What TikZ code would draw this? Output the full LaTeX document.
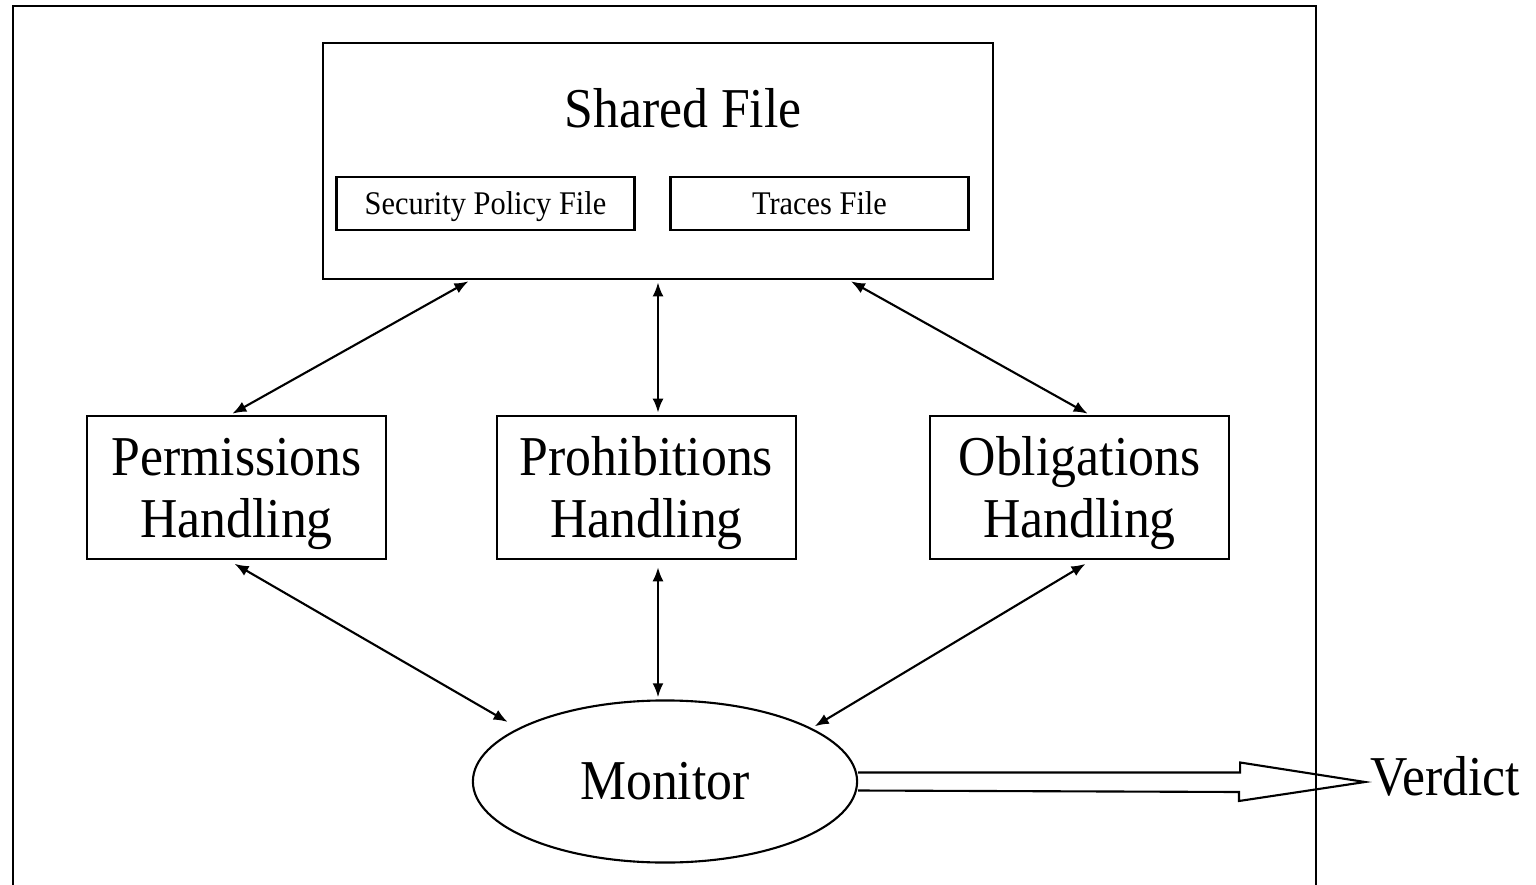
\documentclass[tikz,border=0pt]{standalone}
\usepackage{fontspec}
\setmainfont[FakeStretch=0.92]{Liberation Serif}
\usetikzlibrary{arrows.meta,positioning,calc,shapes}

\begin{document}
\begin{tikzpicture}[x=0.01cm,y=-0.01cm,
  box/.style={draw,line width=0.7pt,inner sep=0pt,align=center,font=\fontsize{16}{17.6}\selectfont},
  smallbox/.style={draw,line width=0.7pt,inner sep=0pt,minimum width=2.98cm,minimum height=0.53cm,text height=0.21cm,text depth=0pt,font=\fontsize{9.4}{11}\selectfont},
  link/.style={line width=0.6pt,{Latex[length=1.4mm,width=1.1mm]}-{Latex[length=1.4mm,width=1.1mm]},shorten <=0.6pt,shorten >=0.6pt}]
\useasboundingbox (0,0) rectangle (1536,885);
\draw[line width=0.7pt] (13,6) rectangle (1316,888);
% shared file
\node[box,minimum width=6.7cm,minimum height=2.36cm] (shared) at (658,161) {};
\node[font=\fontsize{16}{17.6}\selectfont] (sharedtitle) at (683,108) {Shared File};
\node[smallbox] (policy) at (485.5,203.5) {Security Policy File};
\node[smallbox] (traces) at (819.5,203.5) {Traces File};
% handlers
\node[box,minimum width=2.99cm,minimum height=1.43cm] (perm) at (236.5,487.5) {Permissions\rule{0pt}{0.5cm}\\Handling};
\node[box,minimum width=2.99cm,minimum height=1.43cm] (prohib) at (646.5,487.5) {Prohibitions\rule{0pt}{0.5cm}\\Handling};
\node[box,minimum width=2.99cm,minimum height=1.43cm] (obl) at (1079.5,487.5) {Obligations\rule{0pt}{0.5cm}\\Handling};
% monitor
\node[draw,ellipse,line width=0.6pt,inner sep=0pt,minimum width=3.84cm,minimum height=1.62cm,font=\fontsize{16}{17.6}\selectfont] (monitor) at (665,781.5) {Monitor};
\node[anchor=west,inner sep=0pt,inner xsep=0.05cm,text height=0.26cm,text depth=0pt,font=\fontsize{16}{17.6}\selectfont] (verdict) at (1365,782) {Verdict};
% links
\draw[link] ($(shared.south west)!0.221!(shared.south east)$) -- ([xshift=-0.06cm]perm.north);
\draw[link] (shared.south) -- (prohib.north -| shared.south);
\draw[link] ($(shared.south west)!0.784!(shared.south east)$) -- ([xshift=0.1cm]obl.north);
\draw[link,shorten <=2pt,shorten >=3.5pt] ([xshift=-0.08cm]perm.south) -- (monitor.160);
\draw[link,shorten <=2pt] (prohib.south -| shared.south) -- (monitor.north -| shared.south);
\draw[link,shorten <=2pt,shorten >=1pt] ([xshift=0.12cm]obl.south) -- (monitor.20);
% verdict
\draw[line width=0.6pt] ([yshift=0.09cm]monitor.east) -- ++(382,0) -- ++(0,-10) -- (verdict.west) -- ++(-126,19) -- ++(0,-9) -- ([yshift=-0.09cm]monitor.east);
\end{tikzpicture}
\end{document}
